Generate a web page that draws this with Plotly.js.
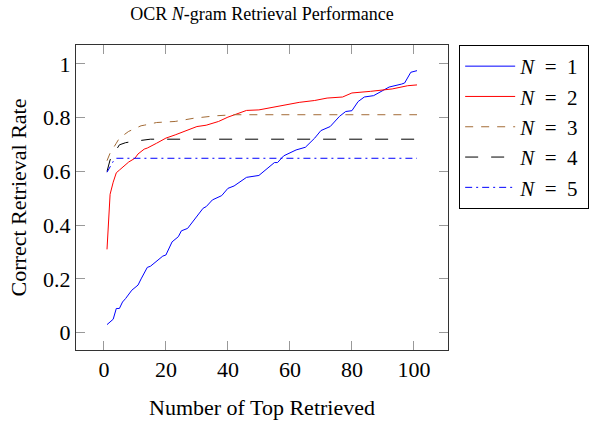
<!DOCTYPE html>
<html>
<head>
<meta charset="utf-8">
<script src="https://cdn.plot.ly/plotly-3.0.1.min.js"></script>
<style>
  html, body { margin: 0; padding: 0; background: #fff; }
  #chart { width: 597px; height: 421px; }
</style>
</head>
<body>
<div id="chart"></div>
<script>
// ---- data ----
const seriesNames = ["<i>N</i>\u2002=\u20021\u2009", "<i>N</i>\u2002=\u20022\u2009", "<i>N</i>\u2002=\u20023\u2009", "<i>N</i>\u2002=\u20024\u2009", "<i>N</i>\u2002=\u20025\u2009"];

const x1 = [1, 3, 4, 5, 6, 7, 9, 11, 12, 14, 15, 19, 20, 22, 24, 25, 27, 29, 32, 33, 35, 38, 40, 42, 46, 50, 53, 55, 56, 58, 62, 65, 68, 70, 73, 76, 78, 80, 82, 84, 87, 90, 92, 96, 97, 99, 101];
const y1 = [0.03, 0.05, 0.09, 0.09, 0.114, 0.127, 0.158, 0.177, 0.2, 0.243, 0.247, 0.285, 0.289, 0.338, 0.357, 0.379, 0.388, 0.419, 0.463, 0.469, 0.494, 0.51, 0.537, 0.546, 0.578, 0.585, 0.612, 0.633, 0.633, 0.658, 0.68, 0.69, 0.724, 0.752, 0.767, 0.805, 0.823, 0.826, 0.86, 0.877, 0.882, 0.902, 0.914, 0.925, 0.929, 0.969, 0.975];

const x2 = [1, 2, 3, 4, 5, 7, 8, 10, 11, 13, 14, 17, 19, 20, 23, 27, 30, 33, 37, 40, 43, 46, 50, 55, 59, 63, 68, 72, 77, 80, 86, 90, 93, 98, 101];
const y2 = [0.31, 0.515, 0.56, 0.595, 0.605, 0.624, 0.635, 0.649, 0.665, 0.683, 0.687, 0.705, 0.718, 0.724, 0.736, 0.755, 0.767, 0.772, 0.786, 0.802, 0.815, 0.827, 0.829, 0.84, 0.846, 0.857, 0.864, 0.873, 0.877, 0.892, 0.898, 0.902, 0.907, 0.919, 0.922];

const x3 = [1, 2, 4, 5, 8, 12, 13, 17, 23, 29, 36, 42, 101];
const y3 = [0.64, 0.668, 0.705, 0.724, 0.749, 0.77, 0.772, 0.782, 0.786, 0.798, 0.807, 0.811, 0.811];

const x4 = [1, 2, 5, 7, 9, 15, 101];
const y4 = [0.6, 0.643, 0.699, 0.707, 0.711, 0.72, 0.72];

const x5 = [1, 3, 4, 101];
const y5 = [0.597, 0.637, 0.649, 0.649];

const xTicks = [0, 20, 40, 60, 80, 100];
const yTicks = [0, 0.2, 0.4, 0.6, 0.8, 1];
const yTickText = ["0", "0.2", "0.4", "0.6", "0.8", "1"];

// ---- styling ----
const serif = "Liberation Serif, serif";
const styles = [
  {color: "#0000ff", dash: "solid"},
  {color: "#ff0000", dash: "solid"},
  {color: "#a36b36", dash: "8px,8px"},
  {color: "#000000", dash: "13px,13px"},
  {color: "#0000ff", dash: "7px,4px,2px,4px"}
];
const xs = [x1, x2, x3, x4, x5];
const ys = [y1, y2, y3, y4, y5];

const traces = xs.map((xv, i) => ({
  x: xv, y: ys[i], type: "scatter", mode: "lines", name: seriesNames[i],
  line: {color: styles[i].color, dash: styles[i].dash, width: 1}
}));

const axisCommon = {
  showline: true, linecolor: "#333", linewidth: 1, mirror: "allticks",
  ticks: "inside", ticklen: 9, tickcolor: "#999", tickwidth: 1,
  showgrid: false, zeroline: false, automargin: false,
  tickfont: {family: serif, size: 22, color: "#000"}
};

const layout = {
  width: 597, height: 421,
  margin: {l: 76, r: 149, t: 45, b: 71, autoexpand: false},
  paper_bgcolor: "#fff", plot_bgcolor: "#fff",
  title: {text: "OCR <i>N</i>-gram Retrieval Performance", font: {family: serif, size: 18, color: "#000"},
          x: 262 / 597, xanchor: "center", y: 1 - 14 / 421, yanchor: "middle"},
  xaxis: Object.assign({}, axisCommon, {
    range: [-9, 111], tickvals: xTicks, ticktext: xTicks.map(String),
    title: {text: "Number of Top Retrieved", font: {family: serif, size: 22, color: "#000"}, standoff: 18}
  }),
  yaxis: Object.assign({}, axisCommon, {
    range: [-0.0645, 1.0705], tickvals: yTicks, ticktext: yTickText,
    title: {text: "Correct Retrieval Rate", font: {family: serif, size: 22, color: "#000"}, standoff: 10}
  }),
  showlegend: true,
  legend: {
    x: 1.03, xanchor: "left", y: 1.0, yanchor: "top",
    bordercolor: "#000", borderwidth: 1, bgcolor: "#fff",
    font: {family: serif, size: 21, color: "#000"},
    itemwidth: 50,
    tracegroupgap: 0
  }
};

Plotly.newPlot("chart", traces, layout, {displayModeBar: false, staticPlot: true});
</script>
</body>
</html>
